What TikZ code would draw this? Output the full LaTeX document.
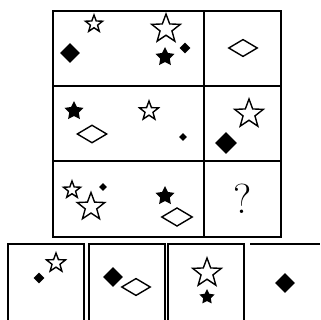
\documentclass[tikz,border=0pt]{standalone}
\usepackage{tikz}
\usetikzlibrary{shapes.geometric}

\begin{document}
\begin{tikzpicture}[x=1pt,y=-1pt,
    ostar/.style={star,star points=5,star point ratio=2.4,draw,line width=1.4pt,inner sep=0pt,minimum size=#1},
    fstar/.style={star,star points=5,star point ratio=2.0,fill=black,inner sep=0pt,minimum size=#1},
    odia/.style={diamond,draw,line width=1.4pt,inner sep=0pt,minimum width=#1,minimum height=0.6*#1},
    fdia/.style={diamond,fill=black,inner sep=0pt,minimum width=#1,minimum height=#1}]
    \useasboundingbox (0,0) rectangle (320,320);

    % question grid
    \draw[line width=1.4pt] (53,11) rectangle (281,237);
    \draw[line width=2.4pt] (53,11) -- (53,237);
    \draw[line width=1.4pt] (53,86) -- (281,86);
    \draw[line width=1.4pt] (53,161) -- (281,161);
    \draw[line width=1.2pt] (204,11) -- (204,237);

    % answer boxes
    \draw[line width=1.2pt] (8,320) -- (8,244) -- (84,244) -- (84,320);
    \draw[line width=1.2pt] (89,320) -- (89,244) -- (165,244) -- (165,320);
    \draw[line width=1.2pt] (168,320) -- (168,244) -- (244,244) -- (244,320);
    \draw[line width=1.2pt] (250,244) -- (320,244);

    % row 1
    \node[fdia=20] (r1d) at (70,53) {};
    \node[ostar=18] (r1s) at (94,24) {};
    \node[ostar=30] (r1S) at (166,29) {};
    \node[fstar=20] (r1f) at (165,57) {};
    \node[fdia=11] (r1t) at (185,48) {};
    \node[odia=29] (r1o) at (243,48) {};

    % row 2
    \node[fstar=20] (r2f) at (74,111) {};
    \node[odia=30] (r2o) at (92,134) {};
    \node[ostar=20] (r2s) at (149,111) {};
    \node[fdia=8] (r2t) at (183,137) {};
    \node[ostar=30] (r2S) at (249,114) {};
    \node[fdia=22] (r2d) at (226,143) {};

    % row 3
    \node[ostar=18] (r3s) at (72,190) {};
    \node[ostar=29] (r3S) at (91,207) {};
    \node[fdia=8] (r3t) at (103,187) {};
    \node[fstar=20] (r3f) at (165,196) {};
    \node[odia=31] (r3o) at (177,217) {};
    \node[font=\fontsize{42}{42}\selectfont] (q) at (243,199) {?};

    % answers
    \node[fdia=11] (a1d) at (39,278) {};
    \node[ostar=20] (a1s) at (56,263) {};
    \node[fdia=20] (a2d) at (113,277) {};
    \node[odia=29] (a2o) at (136,287) {};
    \node[ostar=30] (a3S) at (207,273) {};
    \node[fstar=16] (a3f) at (207,297) {};
    \node[fdia=20] (a4d) at (285,283) {};
\end{tikzpicture}
\end{document}
